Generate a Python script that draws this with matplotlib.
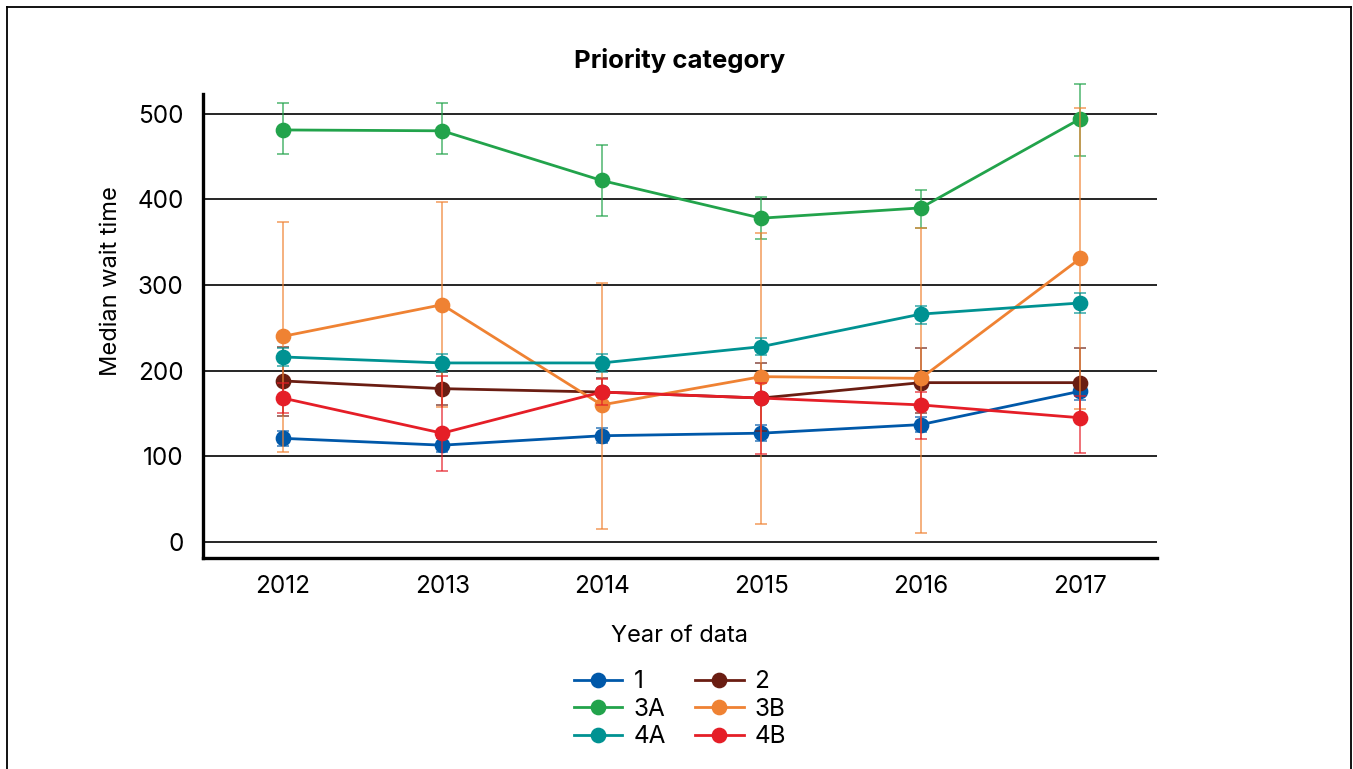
import matplotlib
matplotlib.use("Agg")
import matplotlib.pyplot as plt
from matplotlib.lines import Line2D
import numpy as np

plt.rcParams['font.family'] = ['Inter', 'DejaVu Sans']

years = [2012, 2013, 2014, 2015, 2016, 2017]
series_names = ['1', '2', '3A', '3B', '4A', '4B']

# median wait time per category
p1 = [121, 113, 124, 127, 137, 176]
p2 = [188, 179, 175, 168, 186, 186]
p3a = [481, 480, 422, 378, 390, 494]
p3b = [240, 277, 160, 193, 191, 331]
p4a = [216, 209, 209, 228, 266, 279]
p4b = [168, 127, 175, 168, 160, 145]

# lower / upper ends of the error bars
p1_lo = [112, 105, 115, 118, 128, 166]
p1_hi = [130, 121, 133, 136, 146, 186]
p2_lo = [147, 160, 158, 130, 150, 147]
p2_hi = [228, 198, 192, 209, 226, 226]
p3a_lo = [453, 453, 380, 354, 366, 451]
p3a_hi = [513, 513, 463, 403, 411, 535]
p3b_lo = [105, 157, 15, 21, 11, 155]
p3b_hi = [373, 397, 302, 361, 366, 507]
p4a_lo = [206, 199, 199, 218, 255, 267]
p4a_hi = [227, 219, 219, 238, 276, 291]
p4b_lo = [150, 83, 160, 103, 120, 104]
p4b_hi = [186, 194, 190, 185, 175, 170]

colors = ['#0058A9', '#6A1D12', '#22A34B', '#EF8233', '#009292', '#E51E27']

values = [p1, p2, p3a, p3b, p4a, p4b]
lows = [p1_lo, p2_lo, p3a_lo, p3b_lo, p4a_lo, p4b_lo]
highs = [p1_hi, p2_hi, p3a_hi, p3b_hi, p4a_hi, p4b_hi]

fig = plt.figure(figsize=(13.53, 7.69), dpi=100)
ax = fig.add_axes([0.150, 0.2744, 0.705, 0.6034])

handles = []
for name, vals, lo, hi, c in zip(series_names, values, lows, highs, colors):
    vals = np.array(vals)
    yerr = [vals - np.array(lo), np.array(hi) - vals]
    eb = ax.errorbar(years, vals, yerr=yerr, fmt='none', ecolor=c, elinewidth=1.1,
                     capsize=4, capthick=1.1, alpha=0.8)
    # the 2017 3A bar runs above the top of the axes in the original
    for part in eb.lines[1] + eb.lines[2]:
        part.set_clip_on(False)
    ln, = ax.plot(years, vals, color=c, lw=2.0, marker='o', markersize=10.3, label=name)
    handles.append(ln)

ax.set_xlim(2011.5, 2017.48)
ax.set_ylim(-18.7, 523)
ax.set_xticks(years)
ax.set_yticks([0, 100, 200, 300, 400, 500])
ax.tick_params(axis='y', length=0, pad=14, labelsize=17.5)
ax.tick_params(axis='x', length=0, pad=12, labelsize=17.5)
for s in ['top', 'right']:
    ax.spines[s].set_visible(False)
ax.spines['left'].set_linewidth(2.4)
ax.spines['bottom'].set_linewidth(2.4)
ax.grid(axis='y', color='black', lw=1.2)
ax.set_axisbelow(True)

ax.set_title('Priority category', fontsize=18.5, fontweight='bold', pad=19)
ax.set_xlabel('Year of data', fontsize=17, labelpad=20)
ax.set_ylabel('Median wait time', fontsize=17)
ax.yaxis.set_label_coords(-0.085, 0.597)

# legend filled row by row: 1 2 / 3A 3B / 4A 4B
order = [0, 2, 4, 1, 3, 5]
ax.legend([handles[i] for i in order], [series_names[i] for i in order],
          loc='upper center', bbox_to_anchor=(0.5, -0.195), ncol=2, frameon=False,
          fontsize=17.5, handlelength=2.0, handletextpad=0.45, columnspacing=1.2,
          labelspacing=0.18)

# outer frame (open at the bottom)
fig.add_artist(Line2D([0.0055, 0.0055], [0.0, 0.9915], color='black', lw=1.3))
fig.add_artist(Line2D([0.0055, 0.9983], [0.9915, 0.9915], color='black', lw=1.3))
fig.add_artist(Line2D([0.9983, 0.9983], [0.0, 0.9915], color='black', lw=1.3))

fig.savefig('out.png', dpi=100)
